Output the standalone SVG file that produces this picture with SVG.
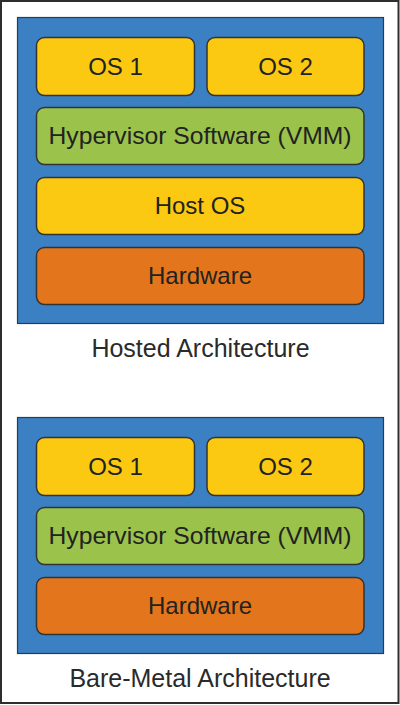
<svg xmlns="http://www.w3.org/2000/svg" width="400" height="705" viewBox="0 0 400 705">
<style>
.frame{fill:#ffffff;stroke:#2e2e2e;stroke-width:2}
.panel{fill:#3b80c2;stroke:#2f3b4a;stroke-width:1.2}
.box{stroke:#333333;stroke-width:1.5}
.os{fill:#fcc912}
.hyp{fill:#9bc34b}
.hw{fill:#e3761c}
.lbl{font-family:"Liberation Sans",Arial,sans-serif;font-size:24px;fill:#222222;text-anchor:middle}
.cap{font-family:"Liberation Sans",Arial,sans-serif;font-size:25px;fill:#2a2a2a;text-anchor:middle}
</style>
<rect class="frame" x="1" y="1" width="397.5" height="702"/>
<g id="hosted">
<rect class="panel" x="17.5" y="17.5" width="366" height="306"/>
<g id="h-os1"><rect class="box os" x="36.5" y="37.5" width="158" height="58" rx="8"/><text class="lbl" x="115.5" y="75">OS 1</text></g>
<g id="h-os2"><rect class="box os" x="207" y="37.5" width="157" height="58" rx="8"/><text class="lbl" x="285.5" y="75">OS 2</text></g>
<g id="h-hyp"><rect class="box hyp" x="36.5" y="107.5" width="327.5" height="57" rx="8"/><text class="lbl" x="200" y="144" textLength="303" lengthAdjust="spacingAndGlyphs">Hypervisor Software (VMM)</text></g>
<g id="h-host"><rect class="box os" x="36.5" y="177.5" width="327.5" height="57" rx="8"/><text class="lbl" x="200" y="214">Host OS</text></g>
<g id="h-hw"><rect class="box hw" x="36.5" y="247.5" width="327.5" height="57" rx="8"/><text class="lbl" x="200" y="284">Hardware</text></g>
<text class="cap" x="200.5" y="357">Hosted Architecture</text>
</g>
<g id="bare">
<rect class="panel" x="17.5" y="417.5" width="366" height="236"/>
<g id="b-os1"><rect class="box os" x="36.5" y="437.5" width="158" height="58" rx="8"/><text class="lbl" x="115.5" y="475">OS 1</text></g>
<g id="b-os2"><rect class="box os" x="207" y="437.5" width="157" height="58" rx="8"/><text class="lbl" x="285.5" y="475">OS 2</text></g>
<g id="b-hyp"><rect class="box hyp" x="36.5" y="507.5" width="327.5" height="57" rx="8"/><text class="lbl" x="200" y="544" textLength="303" lengthAdjust="spacingAndGlyphs">Hypervisor Software (VMM)</text></g>
<g id="b-hw"><rect class="box hw" x="36.5" y="577.5" width="327.5" height="57" rx="8"/><text class="lbl" x="200" y="614">Hardware</text></g>
<text class="cap" x="200" y="687">Bare-Metal Architecture</text>
</g>
<g id="connectors"/>
</svg>
